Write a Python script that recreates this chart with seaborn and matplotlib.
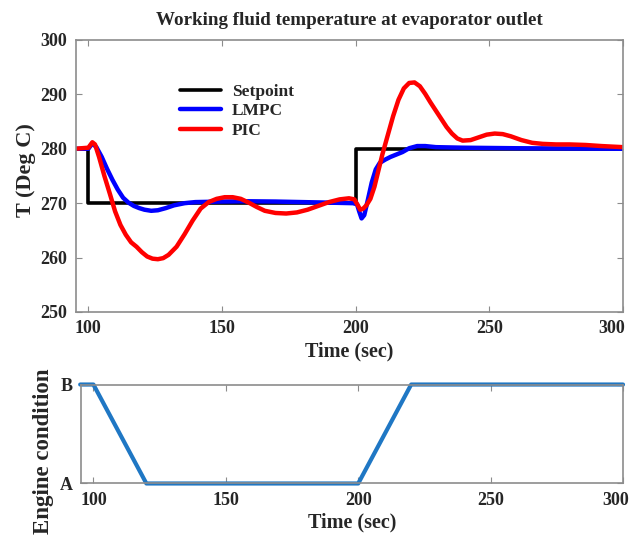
import matplotlib
matplotlib.use("Agg")
import matplotlib.pyplot as plt
import matplotlib.transforms as mtransforms
import seaborn as sns
import pandas as pd

# Setpoint trajectory (step down at 100 s, step back up at 200 s)
setpoint_t = [95, 100, 100, 200, 200, 300]
setpoint_T = [280, 280, 270, 270, 280, 280]

# LMPC response
lmpc_t = [95, 100, 101.5, 103, 105, 107, 109, 111, 113, 115, 117, 119, 121, 123.5,
          126, 129, 132, 136, 140, 150, 160, 170, 180, 190, 199, 200.5, 201.3,
          202.2, 203.2, 204.5, 206, 207.5, 209, 211, 213, 215, 217.5, 220, 223,
          226, 230, 240, 260, 300]
lmpc_T = [280, 280, 281, 280.3, 278.5, 276.3, 274.3, 272.5, 271, 270.1, 269.5,
          269.1, 268.8, 268.6, 268.7, 269.1, 269.6, 270, 270.2, 270.3, 270.35,
          270.3, 270.2, 270.1, 270, 269.8, 268.5, 267.2, 267.8, 270.5, 273.8,
          276.2, 277.4, 278, 278.5, 278.9, 279.4, 280.1, 280.5, 280.5, 280.3,
          280.2, 280.1, 280]

# PI controller response
pic_t = [95, 100, 101.5, 102.5, 104, 106, 108, 110, 112, 114, 116, 118, 120, 122,
         124, 126, 128, 130, 133, 136, 139, 142, 145, 148, 151, 154, 157, 160,
         163, 166, 170, 174, 178, 182, 186, 190, 194, 197.5, 199.5, 200.8, 201.7,
         202.8, 204, 205.5, 207, 208.5, 210, 212, 214, 216, 218, 220, 222, 224,
         226, 228, 230, 232, 234, 236, 238, 240, 243, 246, 249, 252, 255, 258,
         262, 266, 270, 275, 280, 286, 292, 300]
pic_T = [280, 280.2, 281.2, 280.8, 278.5, 275, 271.8, 268.5, 266, 264.2, 262.8,
         262, 261, 260.2, 259.8, 259.7, 259.9, 260.5, 262, 264.3, 266.8, 269,
         270.2, 270.8, 271.1, 271.1, 270.8, 270.1, 269.3, 268.6, 268.2, 268.1,
         268.3, 268.8, 269.5, 270.2, 270.7, 270.9, 270.7, 269.6, 268.8, 269,
         269.6, 270.8, 273, 276, 279, 282.5, 286, 289, 291.1, 292.1, 292.2,
         291.5, 290.1, 288.5, 287, 285.5, 284, 282.8, 281.9, 281.5, 281.6,
         282.1, 282.6, 282.8, 282.7, 282.3, 281.6, 281.1, 280.9, 280.8, 280.8,
         280.7, 280.5, 280.3]

# Engine operating condition (A = 0, B = 1)
engine_t = [95, 100, 120, 200, 220, 300]
engine_state = [1, 1, 0, 0, 1, 1]
engine_labels = ["A", "B"]

x_ticks = [100, 150, 200, 250, 300]
y_ticks = [250, 260, 270, 280, 290, 300]

sns.set_theme(style="white")
plt.rcParams["font.family"] = ["Liberation Serif", "DejaVu Serif"]
plt.rcParams["font.weight"] = "bold"

spine_gray = "#8c8c8c"

fig = plt.figure(figsize=(6.32, 5.39), dpi=100)
ax1 = fig.add_axes([0.1195, 0.4212, 0.8663, 0.5046])
ax2 = fig.add_axes([0.1277, 0.1030, 0.8581, 0.1836])

sp = pd.DataFrame({"t": setpoint_t, "T": setpoint_T})
lm = pd.DataFrame({"t": lmpc_t, "T": lmpc_T})
pi = pd.DataFrame({"t": pic_t, "T": pic_T})
en = pd.DataFrame({"t": engine_t, "s": engine_state})

sns.lineplot(data=sp, x="t", y="T", ax=ax1, color="black", lw=2.6,
             estimator=None, sort=False, label="Setpoint")
sns.lineplot(data=lm, x="t", y="T", ax=ax1, color="#0000ff", lw=3.2,
             estimator=None, sort=False, label="LMPC")
sns.lineplot(data=pi, x="t", y="T", ax=ax1, color="#ff0000", lw=3.2,
             estimator=None, sort=False, label="PIC")

sns.lineplot(data=en, x="t", y="s", ax=ax2, color="#1f77c4", lw=3,
             estimator=None, sort=False, legend=False)

for ax, shift in ((ax1, -11), (ax2, -7)):
    ax.set_xlim(95.2, 300)
    ax.set_xticks(x_ticks)
    ax.set_xticklabels([str(v) for v in x_ticks], fontsize=13, fontweight="bold")
    ax.tick_params(direction="in", length=4, width=0.8, color=spine_gray,
                   top=True, right=True, bottom=True, left=True, pad=6)
    for s in ax.spines.values():
        s.set_visible(True)
        s.set_color(spine_gray)
        s.set_linewidth(1.2)
    ax.set_xlabel("Time (sec)", fontsize=14.5, fontweight="bold", labelpad=3)
    # keep the last tick label inside the figure
    last = ax.get_xticklabels()[-1]
    last.set_transform(last.get_transform() +
                       mtransforms.ScaledTranslation(shift / 100, 0,
                                                     fig.dpi_scale_trans))

ax1.set_ylim(250, 300)
ax1.set_yticks(y_ticks)
ax1.set_yticklabels([str(v) for v in y_ticks], fontsize=13, fontweight="bold")
ax1.set_ylabel("T (Deg C)", fontsize=16, fontweight="bold")
ax1.yaxis.set_label_coords(-0.073, 0.52)
ax1.set_title("Working fluid temperature at evaporator outlet", fontsize=13.7,
              fontweight="bold", pad=11)

ax2.set_ylim(0, 1)
ax2.set_yticks([0, 1])
ax2.set_yticklabels(engine_labels, fontsize=13, fontweight="bold")
ax2.set_ylabel("Engine condition", fontsize=16.5, fontweight="bold")
ax2.yaxis.set_label_coords(-0.050, 0.33)
for ln in ax2.lines:
    ln.set_clip_on(False)

ax1.legend(loc="upper left", bbox_to_anchor=(0.19, 0.84), frameon=False,
           borderpad=0, borderaxespad=0, handlelength=2.4, handletextpad=0.6,
           labelspacing=0.2, prop={"family": "Liberation Serif", "weight": "bold",
                                   "size": 12.5})

fig.savefig("out.png", dpi=100, facecolor="white")
